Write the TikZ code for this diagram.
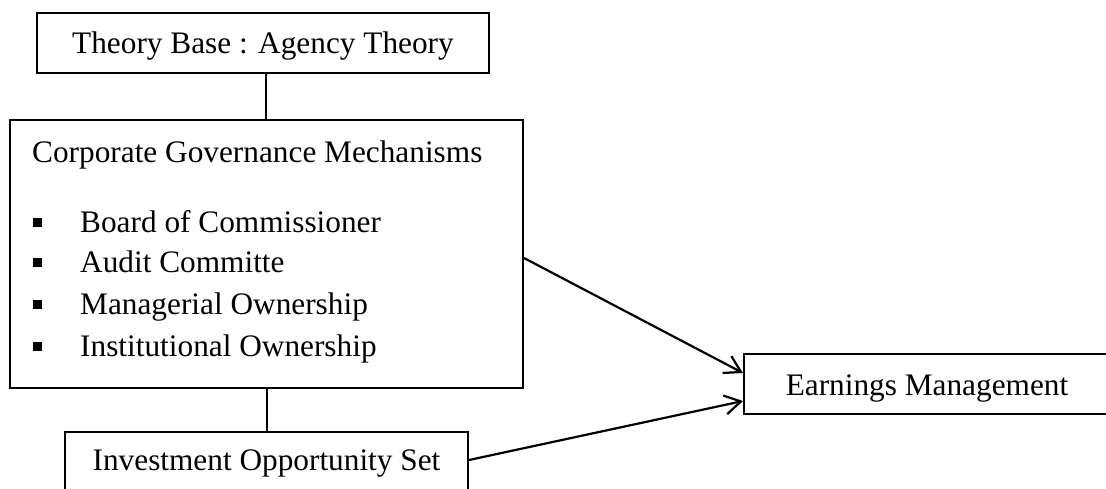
\documentclass[tikz,border=0pt]{standalone}
\usepackage{fontspec}
\setmainfont{Liberation Serif}
\usetikzlibrary{arrows.meta}
\begin{document}
\begin{tikzpicture}[x=1pt,y=-1pt,
  box/.style={draw, line width=2pt, rectangle, inner sep=0pt},
  lbl/.style={inner sep=0pt, font=\fontsize{31.3}{36}\selectfont},
  bul/.style={fill, rectangle, minimum size=9pt, inner sep=0pt},
  link/.style={line width=2pt},
  arr/.style={line width=2.2pt, -{Straight Barb[length=16pt,width=19pt,line width=2.2pt]}}]
\useasboundingbox (0,0) rectangle (1106,488);
% boxes
\node[box, minimum width=452pt, minimum height=60pt] (top) at (263,43) {};
\node[box, minimum width=513pt, minimum height=268pt] (cg) at (266.5,254) {};
\node[box, minimum width=403pt, minimum height=68pt] (ios) at (266.5,466) {};
\node[box, minimum width=364pt, minimum height=60pt] (em) at (926,384) {};
% texts
\node[lbl, anchor=base] (ttop) at (263,53) {Theory Base : Agency Theory};
\node[lbl, anchor=base west] (tcg) at (32,162) {Corporate Governance Mechanisms};
\node[lbl, anchor=base west] (t1) at (80,232) {Board of Commissioner};
\node[lbl, anchor=base west] (t2) at (80,272) {Audit Committe};
\node[lbl, anchor=base west] (t3) at (80,314) {Managerial Ownership};
\node[lbl, anchor=base west] (t4) at (80,356) {Institutional Ownership};
\node[bul] (b1) at (37.5,222) {};
\node[bul] (b2) at (37.5,262) {};
\node[bul] (b3) at (37.5,304) {};
\node[bul] (b4) at (37.5,346) {};
\node[lbl, anchor=base] (tios) at (266.5,470) {Investment Opportunity Set};
\node[lbl, anchor=base] (tem) at (927,395) {Earnings Management};
% connectors
\draw[link] (top.south -| 266,0) -- (cg.north -| 266,0);
\draw[link] (cg.south -| 267,0) -- (ios.north -| 267,0);
\coordinate (a1s) at (cg.east |- 0,258);
\coordinate (a1e) at (em.west |- 0,373);
\coordinate (a2s) at (ios.east |- 0,460);
\coordinate (a2e) at (em.west |- 0,401);
\draw[arr] (a1s) -- (a1e);
\draw[arr] (a2s) -- (a2e);
\end{tikzpicture}
\end{document}
